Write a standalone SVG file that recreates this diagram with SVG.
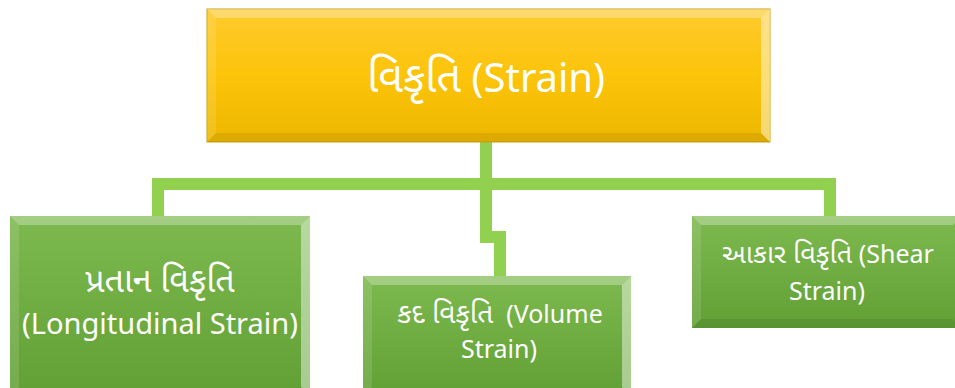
<svg xmlns="http://www.w3.org/2000/svg" width="955" height="388" viewBox="0 0 955 388" xml:space="preserve">
<defs>
<linearGradient id="gold" x1="0" y1="0" x2="0" y2="1">
<stop offset="0" stop-color="#FFCA2E"/>
<stop offset="0.5" stop-color="#FCC40A"/>
<stop offset="1" stop-color="#EDB700"/>
</linearGradient>
<linearGradient id="green" x1="0" y1="0" x2="0" y2="1">
<stop offset="0" stop-color="#7DB94F"/>
<stop offset="1" stop-color="#61A034"/>
</linearGradient>
<style>
.t{fill:#fff;font-family:"Noto Sans Gujarati","Noto Sans","Open Sans",sans-serif;text-anchor:middle;white-space:pre}
.hi{fill:#fff;opacity:.3}
.hr{fill:#fff;opacity:.45}
.hl{fill:#fff;opacity:.12}
.sh{fill:#000;opacity:.07}
.con{fill:none;stroke:#92D050;stroke-width:12;stroke-linejoin:miter}
</style>
</defs>
<g id="connectors">
<path class="con" d="M486,142 V184"/>
<path class="con" d="M152,184 H836"/>
<path class="con" d="M158,178 V216"/>
<path class="con" d="M830,178 V216"/>
<path class="con" d="M486,190 V237 H500 V276"/>
</g>
<g id="strain">
<rect x="207" y="9" width="563" height="133" fill="url(#gold)" stroke="#C9A012" stroke-width="1"/>
<polygon class="hi" points="207,9 770,9 761,18 216,18"/>
<polygon class="hr" points="770,9 770,142 761,133 761,18"/>
<polygon class="sh" points="207,142 770,142 761,133 216,133"/>
<polygon class="hl" points="207,9 216,18 216,133 207,142"/>
<text class="t" x="486" y="92" font-size="40"><tspan font-size="43">વિકૃતિ</tspan> (Strain)</text>
</g>
<g id="longitudinal">
<rect x="10" y="216" width="300" height="180" fill="url(#green)"/>
<polygon class="hi" points="10,216 310,216 301,225 19,225"/>
<polygon class="hr" points="310,216 310,396 301,387 301,225"/>
<polygon class="hl" points="10,216 19,225 19,387 10,396"/>
<text class="t" x="160" y="292" font-size="34">પ્રતાન વિકૃતિ</text>
<text class="t" x="160" y="334" font-size="29">(Longitudinal Strain)</text>
</g>
<g id="volume">
<rect x="363" y="276" width="268" height="120" fill="url(#green)"/>
<polygon class="hi" points="363,276 631,276 622,285 372,285"/>
<polygon class="hr" points="631,276 631,396 622,387 622,285"/>
<polygon class="hl" points="363,276 372,285 372,387 363,396"/>
<text class="t" x="500" y="323" font-size="25"><tspan font-size="28">કદ વિકૃતિ</tspan>  (Volume</text>
<text class="t" x="499" y="358" font-size="25">Strain)</text>
</g>
<g id="shear">
<rect x="692" y="216" width="270" height="112" fill="url(#green)"/>
<polygon class="hi" points="692,216 962,216 953,225 701,225"/>
<polygon class="sh" points="692,328 962,328 953,319 701,319"/>
<polygon class="hl" points="692,216 701,225 701,319 692,328"/>
<text class="t" x="828" y="263" font-size="25"><tspan font-size="27">આકાર વિકૃતિ</tspan> (Shear</text>
<text class="t" x="827" y="300" font-size="25">Strain)</text>
</g>
</svg>
